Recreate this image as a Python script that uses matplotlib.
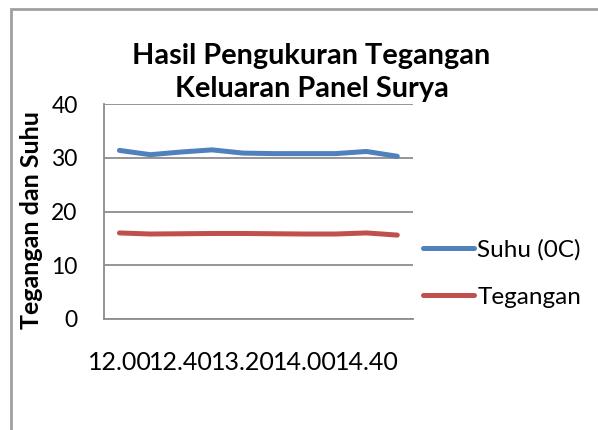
import matplotlib
matplotlib.use('Agg')
import matplotlib.pyplot as plt
from matplotlib.patches import Rectangle

# data
jam = ['12.00', '12.20', '12.40', '13.00', '13.20', '13.40', '14.00', '14.20', '14.40', '15.00']
suhu = [31.4, 30.6, 31.1, 31.5, 30.9, 30.8, 30.8, 30.8, 31.2, 30.3]
tegangan = [16.0, 15.8, 15.85, 15.9, 15.9, 15.85, 15.8, 15.8, 16.0, 15.6]
y_ticks = [0, 10, 20, 30, 40]

FONT = 'Lato'
BLUE = '#4F81BD'
RED = '#C0504D'
GRID = '#8C8C8C'

W, H = 598, 430
fig = plt.figure(figsize=(W / 100, H / 100), dpi=100)

# chart area border (only top and left visible in the crop)
fig.add_artist(Rectangle((11 / W, -0.1), 1.2, 1 - 9 / H + 0.1, transform=fig.transFigure,
                         fill=False, edgecolor='#A0A0A0', linewidth=2.0))

left, right, top, bottom = 104 / W, 412.7 / W, 1 - 104.3 / H, 1 - 318.7 / H
ax = fig.add_axes([left, bottom, right - left, top - bottom])

x = list(range(len(jam)))
ax.plot(x, suhu, color=BLUE, linewidth=3.6, solid_capstyle='round', label='Suhu (0C)')
ax.plot(x, tegangan, color=RED, linewidth=3.6, solid_capstyle='round', label='Tegangan')

ax.set_xlim(-0.5, len(jam) - 0.5)
ax.set_ylim(0, 40)
ax.set_yticks(y_ticks)
ax.set_yticklabels([str(v) for v in y_ticks], fontsize=16.5, family=FONT)
ax.yaxis.grid(True, color=GRID, linewidth=1.3)
ax.set_axisbelow(True)

ax.set_xticks(x[::2])
ax.set_xticklabels(jam[::2], fontsize=18, family=FONT)
ax.tick_params(axis='x', length=0, pad=23)
ax.tick_params(axis='y', length=0, pad=19)

for s in ['top', 'right']:
    ax.spines[s].set_visible(False)
for s in ['left', 'bottom']:
    ax.spines[s].set_color(GRID)
    ax.spines[s].set_linewidth(1.3)

fig.text(311.6 / W, 1 - 72.5 / H, 'Hasil Pengukuran Tegangan\nKeluaran Panel Surya',
         ha='center', va='center', fontsize=20.8, fontweight='bold', family=FONT,
         linespacing=1.33)

fig.text(32 / W, 1 - 220 / H, 'Tegangan dan Suhu', rotation=90, ha='center', va='center',
         fontsize=18, fontweight='bold', family=FONT)

ax.legend(loc='center left', bbox_to_anchor=(413 / W, 1 - 273.5 / H),
          bbox_transform=fig.transFigure, frameon=False,
          prop={'family': FONT, 'size': 17.5}, handlelength=2.1,
          handletextpad=0.15, labelspacing=1.05, borderaxespad=0)

fig.savefig('out.png', dpi=100)
